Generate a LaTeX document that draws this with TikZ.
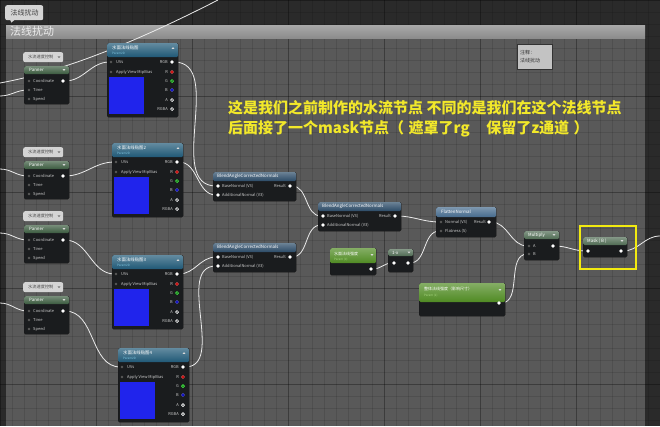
\documentclass[tikz,border=0pt]{standalone}
\usepackage{fontspec}
\setmainfont{Noto Sans CJK SC}
\usetikzlibrary{positioning}
\pgfdeclarelayer{bg}
\pgfdeclarelayer{wires}
\pgfsetlayers{bg,wires,main}

\definecolor{outbg}{HTML}{2A2A2A}
\definecolor{grpbg}{HTML}{595959}
\definecolor{grphead}{HTML}{8C8C8C}
\definecolor{nodebg}{HTML}{1A1C1E}
\definecolor{texhead}{HTML}{1F5876}
\definecolor{texsub}{HTML}{7FC4E0}
\definecolor{pannhead}{HTML}{3A5A3E}
\definecolor{bacnhead}{HTML}{2A4A66}
\definecolor{flathead}{HTML}{456A8C}
\definecolor{mathhead}{HTML}{4E6A52}
\definecolor{parhead}{HTML}{4F8A22}
\definecolor{parsub}{HTML}{A8D880}
\definecolor{cmtgrey}{HTML}{D4D4D4}
\definecolor{notetxt}{HTML}{F2E82A}
\definecolor{texblue}{HTML}{2024EC}
\definecolor{marky}{HTML}{F2EA10}

\newcommand{\wire}{\draw[wire]}
\newcommand{\dtri}[2]{\fill[white!85!black] (#1-1.4,#2-0.9) -- (#1+1.4,#2-0.9) -- (#1,#2+0.9) -- cycle;}
\newcommand{\utri}[2]{\fill[white!85!black] (#1-1.4,#2+0.9) -- (#1+1.4,#2+0.9) -- (#1,#2-0.9) -- cycle;}

\tikzset{
  nbody/.style={draw=black!90, fill=nodebg, rounded corners=1.5pt, anchor=north west, inner sep=0pt, line width=0.4pt},
  nhead/.style={top color=#1!70!white, bottom color=#1, rounded corners=1.5pt, anchor=north west, inner sep=0pt},
  ntitle/.style={font=\fontsize{4.4}{5}\selectfont, text=white, inner sep=0pt, anchor=west},
  nsub/.style={font=\fontsize{3}{3.5}\selectfont, text=#1, inner sep=0pt, anchor=west},
  ntext/.style={font=\fontsize{4}{4.5}\selectfont, text=white!80!black, inner sep=0pt, anchor=west},
  ntextr/.style={ntext, anchor=east},
  pout/.style={circle, fill=white, inner sep=0pt, minimum size=3.6pt},
  pdim/.style={circle, fill=white!35!black, inner sep=0pt, minimum size=2.6pt},
  pfill/.style={circle, fill=#1, draw=#1!60!white, line width=0.3pt, inner sep=0pt, minimum size=3.4pt},
  pring/.style={circle, draw=#1, line width=0.7pt, inner sep=0pt, minimum size=3pt},
  cmtbox/.style={fill=cmtgrey, rounded corners=2pt, anchor=north west, inner sep=0pt},
  cmttext/.style={font=\fontsize{4.2}{5}\selectfont, text=black!70, inner sep=0pt, anchor=west},
  note/.style={font=\fontsize{15}{20}\selectfont\bfseries, text=notetxt, inner sep=0pt, anchor=base west},
  wire/.style={white!92!black, line width=0.8pt},
  gridminor/.style={black, opacity=0.1, line width=0.4pt},
  gridmajor/.style={black, opacity=0.24, line width=0.5pt},
}

% texture sample node: name, x, y, title
\newcommand{\texsample}[4]{%
  \begin{scope}[shift={(#2,#3)}]
    \node[nbody, minimum width=71pt, minimum height=74pt] (#1) at (0,0) {};
    \node[nhead=texhead, minimum width=71pt, minimum height=14pt] (#1h) at (0,0) {};
    \node[ntitle] (#1t) at (5,4.5) {#4};
    \node[nsub=texsub] (#1s) at (5,10.5) {Param2D};
    \utri{66}{5}
    \node[pdim] (#1uv) at (4,19) {};
    \node[ntext] (#1uvl) at (9,19) {UVs};
    \node[pdim] (#1mb) at (4,29) {};
    \node[ntext] (#1mbl) at (9,29) {Apply View MipBias};
    \fill[texblue] (1.5,34) rectangle (37,71);
    \node[pout] (#1rgb) at (65,19) {};
    \node[ntextr] (#1rgbl) at (61,19) {RGB};
    \node[pfill=red!80!black] (#1r) at (65,29) {};
    \node[ntextr] (#1rl) at (61,29) {R};
    \node[pring=green!75!white] (#1g) at (65,38) {};
    \node[ntextr] (#1gl) at (61,38) {G};
    \node[pfill=blue!75!black] (#1b) at (65,47) {};
    \node[ntextr] (#1bl) at (61,47) {B};
    \node[pring=white] (#1a) at (65,57) {};
    \node[ntextr] (#1al) at (61,57) {A};
    \node[pring=white] (#1rgba) at (65,66) {};
    \node[ntextr] (#1rgbal) at (61,66) {RGBA};
  \end{scope}}

% panner node with its comment bubble: name, x, y
\newcommand{\pannernode}[3]{%
  \begin{scope}[shift={(#2,#3)}]
    \node[cmtbox, minimum width=40pt, minimum height=10pt] (#1c) at (-1,-14) {};
    \node[cmttext] (#1ct) at (4,-8.8) {水流速度控制};
    \fill[black!55] (33.6,-9.6) -- (36.4,-9.6) -- (35,-7.8) -- cycle;
    \node[nbody, minimum width=45pt, minimum height=38pt] (#1) at (0,0) {};
    \node[nhead=pannhead, minimum width=45pt, minimum height=8pt] (#1h) at (0,0) {};
    \node[ntitle] (#1t) at (5,4) {Panner};
    \dtri{40}{4}
    \node[pdim] (#1co) at (5,15) {};
    \node[ntext] (#1col) at (9,15) {Coordinate};
    \node[pdim] (#1ti) at (5,24) {};
    \node[ntext] (#1til) at (9,24) {Time};
    \node[pdim] (#1sp) at (5,33) {};
    \node[ntext] (#1spl) at (9,33) {Speed};
    \node[pout] (#1out) at (39,15) {};
  \end{scope}}

% blend node: name, x, y
\newcommand{\blendnode}[3]{%
  \begin{scope}[shift={(#2,#3)}]
    \node[nbody, minimum width=83pt, minimum height=29pt] (#1) at (0,0) {};
    \node[nhead=bacnhead, minimum width=83pt, minimum height=9pt] (#1h) at (0,0) {};
    \node[ntitle] (#1t) at (4,4.5) {BlendAngleCorrectedNormals};
    \node[pout] (#1base) at (5,14) {};
    \node[ntext] (#1basel) at (9,14) {BaseNormal (V3)};
    \node[pout] (#1add) at (5,23) {};
    \node[ntext] (#1addl) at (9,23) {AdditionalNormal (V3)};
    \node[pout] (#1res) at (77,14) {};
    \node[ntextr] (#1resl) at (73,14) {Result};
  \end{scope}}

\begin{document}
\begin{tikzpicture}[x=1pt,y=-1pt]
  \useasboundingbox (0,0) rectangle (660,426);

  % fond et groupe
  \begin{pgfonlayer}{bg}
    \fill[outbg] (0,0) rectangle (660,426);
    \fill[grpbg] (6,38) rectangle (645,426);
    \foreach \gx in {0,12,...,660} \draw[gridminor] (\gx,0) -- (\gx,426);
    \foreach \gy in {0,12,...,426} \draw[gridminor] (0,\gy) -- (660,\gy);
    \foreach \gx in {0,96,...,660} \draw[gridmajor] (\gx,0) -- (\gx,426);
    \foreach \gy in {0,96,...,426} \draw[gridmajor] (0,\gy) -- (660,\gy);
    \fill[top color=grphead!75!white, bottom color=grphead] (6,25) rectangle (645,38);
  \end{pgfonlayer}
  \node[font=\fontsize{11}{12}\selectfont, text=white!92!black, inner sep=0pt, anchor=west] (grpt) at (10,31.5) {法线扰动};

  \node[cmtbox, minimum width=38pt, minimum height=15pt] (bub) at (5,5) {};
  \fill[cmtgrey] (10,19.5) -- (15,19.5) -- (11.5,22.5) -- cycle;
  \node[cmttext, font=\fontsize{7}{8}\selectfont, text=black!75] (bubt) at (10.5,12.5) {法线扰动};

  % commentaire
  \node[draw=black!80, fill=cmtgrey!92!black, line width=0.6pt, minimum width=35pt, minimum height=25pt, anchor=north west, inner sep=0pt] (memo) at (517,44) {};
  \node[cmttext, font=\fontsize{5}{6}\selectfont, text=black!80] (memo1) at (520,53) {注释：};
  \node[cmttext, font=\fontsize{5}{6}\selectfont, text=black!80] (memo2) at (520,61) {法线扰动};

  \node[note] (note1) at (228,113) {这是我们之前制作的水流节点 不同的是我们在这个法线节点};
  \node[note] (note2) at (228,133) {后面接了一个mask节点（\hspace{0.3em}遮罩了rg\hspace{1.1em}保留了z通道\hspace{0.3em}）};

  % panners et textures
  \pannernode{p1}{24}{66}
  \pannernode{p2}{24}{161}
  \pannernode{p3}{24}{225}
  \pannernode{p4}{24}{296}
  \texsample{t1}{107}{43}{水面法线贴图}
  \texsample{t2}{112}{143}{水面法线贴图2}
  \texsample{t3}{112}{255}{水面法线贴图3}
  \texsample{t4}{118}{348}{水面法线贴图4}

  % melanges
  \blendnode{b1}{213}{172}
  \blendnode{b2}{318}{202}
  \blendnode{b3}{213}{243}

  % parametre 1 et 1-x
  \node[nbody, minimum width=46pt, minimum height=27pt] (par1) at (330,248) {};
  \node[nhead=parhead, minimum width=46pt, minimum height=15pt] (par1h) at (330,248) {};
  \node[ntitle, font=\fontsize{4}{5}\selectfont] (par1t) at (334,254) {水面法线强度};
  \node[nsub=parsub] (par1s) at (334,259.5) {Param (0)};
  \dtri{372}{255}
  \node[pout] (par1out) at (371,269) {};

  \node[nbody, minimum width=25pt, minimum height=23pt] (om) at (388,249) {};
  \node[nhead=mathhead, minimum width=25pt, minimum height=7pt] (omh) at (388,249) {};
  \node[ntitle] (omt) at (392,252.5) {1-x};
  \dtri{409}{252.5}
  \node[pout] (omin) at (394,263) {};
  \node[pout] (omout) at (408,263) {};

  % flatten
  \node[nbody, minimum width=60pt, minimum height=30pt] (fl) at (436,207) {};
  \node[nhead=flathead, minimum width=60pt, minimum height=10pt] (flh) at (436,207) {};
  \node[ntitle] (flt) at (441,212) {FlattenNormal};
  \node[pdim] (flnorm) at (441,222) {};
  \node[ntext] (flnorml) at (445,222) {Normal (V3)};
  \node[pdim] (flflat) at (441,231) {};
  \node[ntext] (flflatl) at (445,231) {Flatness (S)};
  \node[pout] (flres) at (489,222) {};
  \node[ntextr] (flresl) at (486,222) {Result};

  % parametre 2
  \node[nbody, minimum width=86pt, minimum height=33pt] (par2) at (419,283) {};
  \node[nhead=parhead, minimum width=86pt, minimum height=19pt] (par2h) at (419,283) {};
  \node[ntitle, font=\fontsize{4}{5}\selectfont] (par2t) at (424,289) {整体法线强度（影响尺寸）};
  \node[nsub=parsub] (par2s) at (424,295.5) {Param (1)};
  \dtri{500}{290}
  \node[pout] (par2out) at (499,303) {};

  % multiply et mask
  \node[nbody, minimum width=35pt, minimum height=29pt] (mul) at (524,231) {};
  \node[nhead=mathhead, minimum width=35pt, minimum height=8pt] (mulh) at (524,231) {};
  \node[ntitle] (mult) at (528,235) {Multiply};
  \dtri{554}{235}
  \node[pdim] (mula) at (529,246) {};
  \node[ntext] (mulal) at (533,246) {A};
  \node[pdim] (mulb) at (529,254) {};
  \node[ntext] (mulbl) at (533,254) {B};
  \node[pout] (mulout) at (553,246) {};

  \node[nbody, minimum width=44pt, minimum height=20pt] (mask) at (583,237) {};
  \node[nhead=mathhead, minimum width=44pt, minimum height=8pt] (maskh) at (583,237) {};
  \node[ntitle] (maskt) at (587,241) {Mask ( B )};
  \dtri{622}{241}
  \node[pout] (maskin) at (588,251) {};
  \node[pout] (maskout) at (621,251) {};
  \node[draw=marky, line width=2.2pt, minimum width=56pt, minimum height=43pt, anchor=north west, inner sep=0pt] (hilite) at (579,225) {};

  % bouts libres
  \coordinate (in1) at (0,83);
  \coordinate (top1) at (218,0);
  \coordinate (in2) at (0,96);
  \coordinate (in3) at (0,169);
  \coordinate (in4) at (0,233);
  \coordinate (in5) at (0,303);
  \coordinate (rout) at (660,236);

  % fils
  \begin{pgfonlayer}{wires}
    \wire (in1) .. controls (60,72) and (130,45) .. (top1);
    \wire (in2) to[out=0,in=180] (p1ti);
    \wire (in3) to[out=0,in=180] (p2co);
    \wire (in4) to[out=0,in=180] (p3co);
    \wire (in5) to[out=0,in=180] (p4co);
    \wire (p1out) to[out=0,in=180] (t1uv);
    \wire (p2out) to[out=0,in=180] (t2uv);
    \wire (p3out) to[out=0,in=180] (t3uv);
    \wire (p4out) to[out=0,in=180] (t4uv);
    \wire (t1rgb) to[out=0,in=180] (b1base);
    \wire (t2rgb) to[out=0,in=180] (b1add);
    \wire (t3rgb) to[out=0,in=180] (b3base);
    \wire (t4rgb) to[out=0,in=180] (b3add);
    \wire (b1res) to[out=0,in=180] (b2base);
    \wire (b3res) to[out=0,in=180] (b2add);
    \wire (b2res) to[out=0,in=180] (flnorm);
    \wire (par1out) to[out=0,in=180] (omin);
    \wire (omout) to[out=0,in=180] (flflat);
    \wire (flres) to[out=0,in=180] (mula);
    \wire (par2out) to[out=0,in=180] (mulb);
    \wire (mulout) to[out=0,in=180] (maskin);
    \wire (maskout) to[out=0,in=180] (rout);
  \end{pgfonlayer}
\end{tikzpicture}
\end{document}
